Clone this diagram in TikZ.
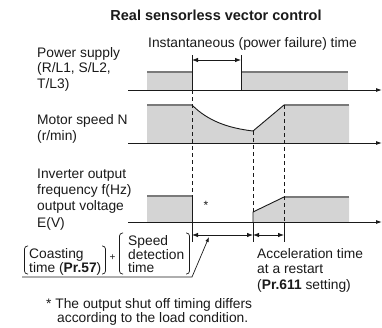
\documentclass[tikz,border=0pt]{standalone}
\usepackage{fontspec}
\setmainfont{Liberation Sans}
\usetikzlibrary{arrows.meta}
\definecolor{fillgray}{HTML}{D4D4D4}
\definecolor{edgegray}{HTML}{7A7A7A}
\definecolor{ink}{HTML}{1A1A1A}
\begin{document}
\begin{tikzpicture}[x=1pt,y=-1pt,
  lbl/.style={anchor=base west,inner sep=0pt,align=left,text=ink,font=\fontsize{13.8}{16.3}\selectfont},
  axisline/.style={ink,line width=0.9pt,-{Latex[length=6pt,width=4pt]}},
  sig/.style={fill=fillgray,draw=none},
  topedge/.style={edgegray,line width=1.1pt},
  cut/.style={ink,line width=0.9pt},
  guide/.style={ink,line width=0.8pt,dash pattern=on 4pt off 3pt},
  tick/.style={ink,line width=0.8pt},
  dim/.style={ink,line width=0.8pt,{Latex[length=6pt,width=4.5pt]}-{Latex[length=6pt,width=4.5pt]}},
  brk/.style={ink,line width=0.7pt,rounded corners=3pt}]
\useasboundingbox (0,0) rectangle (382,327);
% title
\node[anchor=base,inner sep=0pt,text=ink,font=\fontsize{14.5}{17}\selectfont\bfseries] (title) at (216,20) {Real sensorless vector control};
\node[lbl] (inst) at (148,47) {Instantaneous (power failure) time};
% labels (anchored at the baseline of their last line)
\node[lbl,font=\fontsize{13.8}{15.5}\selectfont] (ps) at (37,88) {Power supply\\(R/L1, S/L2,\\T/L3)};
\node[lbl,font=\fontsize{13.8}{15.5}\selectfont] (ms) at (37,140) {Motor speed N\\(r/min)};
\node[lbl] (inv) at (37,227) {Inverter output\\frequency f(Hz)\\output voltage\\E(V)};
% ---- power supply
\fill[sig] (147,72) rectangle (192,90);
\fill[sig] (241,72) rectangle (348,90);
\draw[topedge] (147,72) -- (192,72);
\draw[topedge] (241,72) -- (348,72);
\draw[cut] (192,55) -- (192,90);
\draw[cut] (241,55) -- (241,90);
\draw[dim] (192,60) -- (241,60);
\draw[axisline] (128,90) -- (382,90);
% ---- motor speed
\fill[sig] (147,143) -- (147,105) -- (192,105) .. controls (208,121) and (228,128) .. (253,131) -- (284,105) -- (349,105) -- (349,143) -- cycle;
\draw[topedge] (147,105) -- (192,105);
\draw[topedge] (284,105) -- (349,105);
\draw[cut] (192,105) .. controls (208,121) and (228,128) .. (253,131) -- (284,105);
\draw[axisline] (128,143) -- (382,143);
% ---- inverter output
\fill[sig] (147,196) rectangle (192,222);
\fill[sig] (253,222) -- (253,212) -- (284,197) -- (349,197) -- (349,222) -- cycle;
\draw[topedge] (147,196) -- (192,196);
\draw[topedge] (284,197) -- (349,197);
\draw[cut] (192,196) -- (192,222);
\draw[cut] (253,222) -- (253,212) -- (284,197);
\node[anchor=base,inner sep=0pt,text=ink,font=\fontsize{12}{14}\selectfont] (star) at (206,209) {*};
\draw[axisline] (128,222) -- (382,222);
% ---- guides
\draw[guide] (192,90) -- (192,196);
\draw[guide] (253,131) -- (253,212);
\draw[guide] (284,105) -- (284,222);
\draw[tick] (192,222) -- (192,242);
\draw[tick] (253,222) -- (253,242);
\draw[tick] (284,222) -- (284,242);
\draw[dim] (192,235) -- (253,235);
\draw[dim] (253,235) -- (284,235);
% ---- brackets
\draw[brk] (28,246) -- (24.5,246) -- (24.5,274) -- (28,274);
\draw[brk] (102,246) -- (105.5,246) -- (105.5,274) -- (102,274);
\draw[brk] (123,233) -- (119.5,233) -- (119.5,274) -- (123,274);
\draw[brk] (186,233) -- (189.5,233) -- (189.5,274) -- (186,274);
\node[lbl,font=\fontsize{13.8}{14}\selectfont] (coast) at (29,272) {Coasting\\time (\textbf{Pr.57})};
\node[anchor=center,inner sep=0pt,text=ink,font=\fontsize{10}{12}\selectfont] (plus) at (112.5,258) {+};
\node[lbl,font=\fontsize{13.8}{12.7}\selectfont] (speed) at (128,272) {Speed\\detection\\time};
\draw[ink,line width=0.7pt,-{Latex[length=5pt,width=3.5pt]}] (22,277) -- (192,277) -- (209,237);
% ---- acceleration
\node[lbl,font=\fontsize{13.8}{15.5}\selectfont] (acc) at (257,289) {Acceleration time\\at a restart\\(\textbf{Pr.611} setting)};
% ---- footnote
\node[lbl] (fn1) at (46,308) {* The output shut off timing differs};
\node[lbl] (fn2) at (57,322) {according to the load condition.};
\end{tikzpicture}
\end{document}
